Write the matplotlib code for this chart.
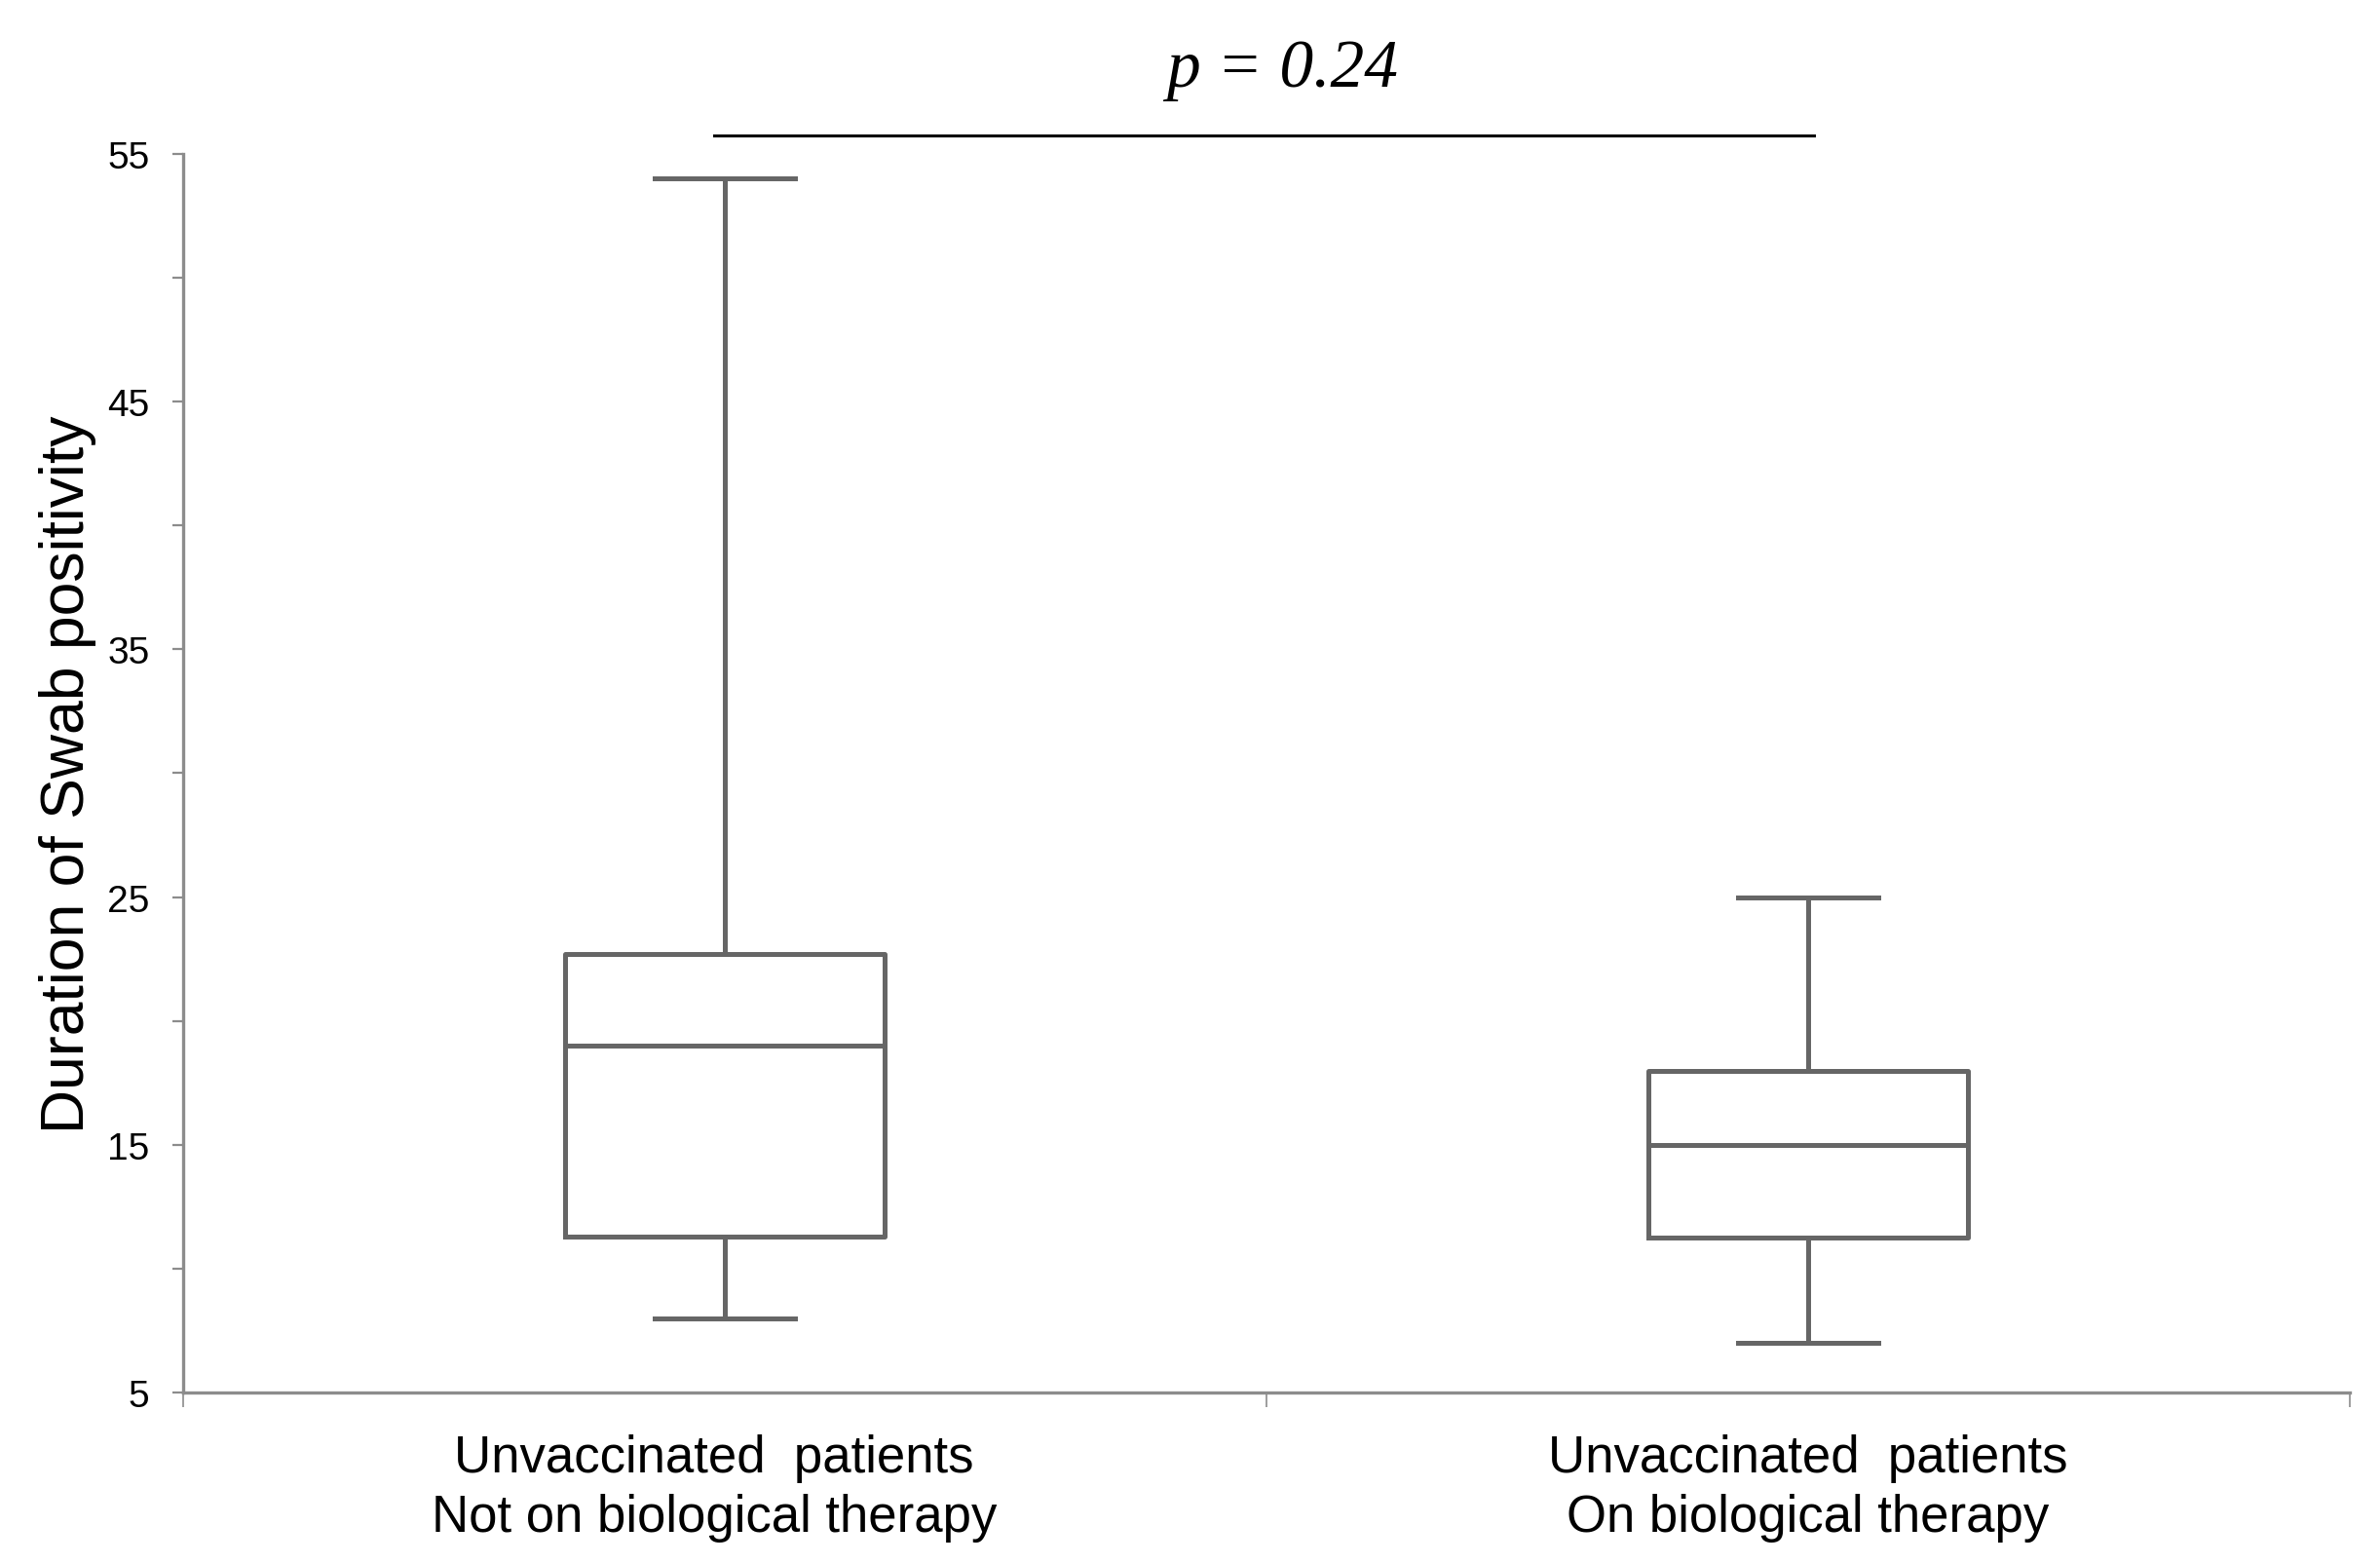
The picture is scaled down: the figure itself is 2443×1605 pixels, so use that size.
import matplotlib
matplotlib.use("Agg")
import matplotlib.pyplot as plt
from matplotlib import font_manager

# box statistics (days)
groups = ["Unvaccinated  patients\nNot on biological therapy",
          "Unvaccinated  patients\nOn biological therapy"]
whisker_low = [8, 7]
q1 = [11.3, 11.25]
median = [19, 15]
q3 = [22.7, 18]
whisker_high = [54, 25]
p_text = "p = 0.24"

installed = {f.name for f in font_manager.fontManager.ttflist}
narrow = "Liberation Sans Narrow" if "Liberation Sans Narrow" in installed else "Liberation Sans"
cat_size = 45 if narrow == "Liberation Sans Narrow" else 38

stats = []
for i in range(len(groups)):
    stats.append({
        "whislo": whisker_low[i], "q1": q1[i], "med": median[i],
        "q3": q3[i], "whishi": whisker_high[i], "fliers": [], "label": groups[i],
    })

fig = plt.figure(figsize=(24.43, 16.06), dpi=100)
ax = fig.add_axes([0.077, 0.1096, 0.9103, 0.7914])

line_col = "#666666"
lw = 3.6
ax.bxp(stats, positions=[1, 2], widths=0.295, capwidths=0.13, showfliers=False,
       boxprops=dict(color=line_col, linewidth=lw),
       whiskerprops=dict(color=line_col, linewidth=lw),
       capprops=dict(color=line_col, linewidth=lw),
       medianprops=dict(color=line_col, linewidth=lw))

ax.set_xlim(0.5, 2.5)
ax.set_ylim(5, 55)

spine_col = "#8c8c8c"
for s in ["top", "right"]:
    ax.spines[s].set_visible(False)
for s in ["left", "bottom"]:
    ax.spines[s].set_color(spine_col)
    ax.spines[s].set_linewidth(2.4)

# y ticks: labelled every 10, unlabelled in between
ax.set_yticks([5, 15, 25, 35, 45, 55])
ax.set_yticklabels(["5", "15", "25", "35", "45", "55"], family="Liberation Sans", fontsize=28)
ax.set_yticks([10, 20, 30, 40, 50], minor=True)
ax.tick_params(axis="y", which="both", direction="out", length=8, width=1.6,
               color=spine_col, pad=17)

# x: separator ticks between groups, labels at box centres
ax.set_xticks([0.5, 1.5, 2.5])
ax.set_xticklabels(["", "", ""])
ax.tick_params(axis="x", which="major", direction="out", length=11, width=1.2, color=spine_col)
ax.set_xticks([0.99, 2], minor=True)
ax.set_xticklabels(groups, minor=True, family=narrow, fontsize=cat_size, linespacing=1.3)
ax.tick_params(axis="x", which="minor", length=0, pad=30)

ax.set_ylabel("Duration of Swab positivity", family="Liberation Sans", fontsize=45)
ax.yaxis.set_label_coords(-0.04, 0.5)

# significance bar
ax.plot([0.99, 2.005], [1.015, 1.015], color="black", lw=2.2,
        transform=ax.get_xaxis_transform(), clip_on=False)
ax.text(1.514, 1.055, p_text, transform=ax.get_xaxis_transform(), ha="center", va="baseline",
        family="Liberation Serif", style="italic", fontsize=50)

fig.savefig("out.png", dpi=100, facecolor="white")
